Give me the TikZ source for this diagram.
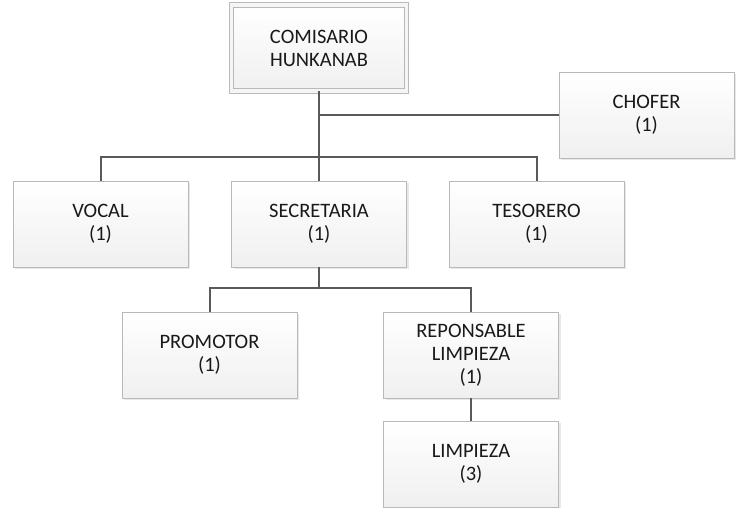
\documentclass[tikz,border=0pt]{standalone}
\usepackage{fontspec}
\setmainfont{Carlito}
\usetikzlibrary{shadows}

\begin{document}
\begin{tikzpicture}[
    x=1pt, y=1pt,
    cargo/.style={rectangle, draw=gray!55, line width=0.8pt, top color=white, bottom color=gray!12,
      minimum width=175pt, minimum height=86pt, inner sep=2pt, align=center,
      text=black!90, font=\fontsize{20.5}{23}\selectfont,
      drop shadow={shadow xshift=2pt, shadow yshift=-2pt, opacity=0.18, fill=gray}},
    jefe/.style={cargo, double=white!92!gray, double distance=3.5pt},
    linea/.style={draw=black!65, line width=2pt}
]
  \useasboundingbox (0,0) rectangle (738,-508);

  % posiciones de los cargos
  \node[jefe]  (comisario)  at (319,-48)    {COMISARIO\\HUNKANAB};
  \node[cargo] (chofer)     at (646.5,-115) {CHOFER\\(1)};
  \node[cargo] (vocal)      at (100.5,-224) {VOCAL\\(1)};
  \node[cargo] (secretaria) at (319,-224)   {SECRETARIA\\(1)};
  \node[cargo] (tesorero)   at (536.5,-224) {TESORERO\\(1)};
  \node[cargo] (promotor)   at (209.5,-355) {PROMOTOR\\(1)};
  \node[cargo] (reponsable) at (471,-355)   {REPONSABLE\\LIMPIEZA\\(1)};
  \node[cargo] (limpieza)   at (471,-464)   {LIMPIEZA\\(3)};

  \coordinate (barra1) at (319,-157);
  \coordinate (barra2) at (319,-288);

  % lineas entre cargos
  \draw[linea] (comisario) -- (secretaria);
  \draw[linea] (chofer.west) -- (chofer.west -| comisario.south);
  \draw[linea] (vocal.north) |- (barra1) -| (tesorero.north);
  \draw[linea] (secretaria) -- (barra2);
  \draw[linea] (promotor.north) |- (barra2) -| (reponsable.north);
  \draw[linea] (reponsable) -- (limpieza);

\end{tikzpicture}
\end{document}
